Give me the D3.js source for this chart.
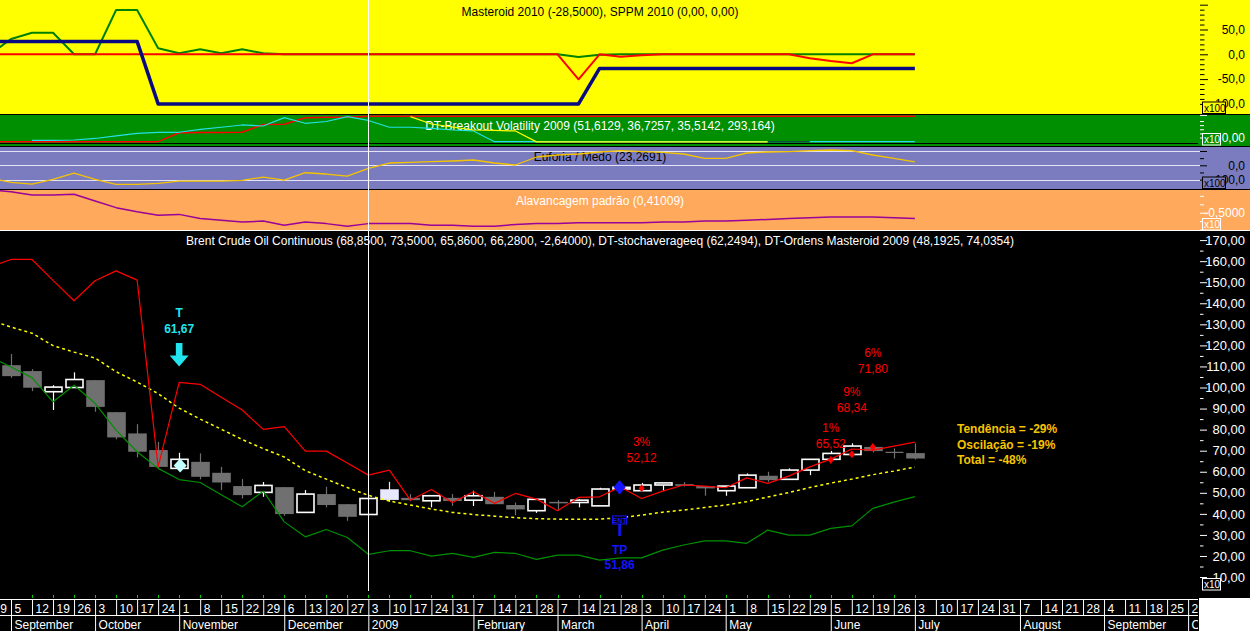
<!DOCTYPE html>
<html><head><meta charset="utf-8">
<script src="https://cdn.jsdelivr.net/npm/d3@7"></script>
<style>
html,body{margin:0;padding:0;background:#000;}
svg{display:block;font-family:"Liberation Sans",Arial,sans-serif;}
</style></head><body>
<svg id="c" width="1250" height="631"></svg>
<script>
// ---------------- DATA ----------------
const weekLabels = ["29","5","12","19","26","3","10","17","24","1","8","15","22","29","6","13","20","27","3","10","17","24","31","7","14","21","28","7","14","21","28","3","10","17","24","1","8","15","22","29","5","12","19","26","3","10","17","24","31","7","14","21","28","4","11","18","25","2"];
const monthLabels = ["September","October","November","December","2009","February","March","April","May","June","July","August","September","O"];
const monthStart  = [1,5,9,14,18,23,27,31,35,40,44,49,53,57];

// weekly candles, week index 1..44
const opens  = [110.6,107.8,98.0,100.0,103.5,88.3,78.2,70.3,61.6,64.7,59.5,53.2,50.2,52.7,40.7,49.4,44.6,39.7,47.0,47.6,46.2,47.6,46.5,48.1,44.2,41.5,45.7,45.4,43.8,51.8,51.0,53.7,54.1,53.2,51.0,52.4,58.1,56.4,60.8,65.9,68.2,71.8,69.2,68.85];
const highs  = [115.9,108.7,101.1,107.2,103.5,88.3,82.6,74.2,69.0,68.7,62.3,56.5,55.1,52.7,51.3,52.9,44.6,47.3,55.2,49.4,48.6,49.4,51.0,50.5,45.4,46.9,46.5,47.0,52.4,53.0,54.7,54.7,55.1,53.2,53.2,59.2,60.0,61.6,65.9,69.9,73.5,71.8,71.1,73.5];
const lows   = [104.6,98.3,89.3,100.0,88.5,75.4,66.8,61.6,61.6,56.4,51.3,47.3,48.1,39.1,40.7,43.1,36.7,39.7,45.7,46.0,43.1,43.8,43.7,44.6,39.4,40.5,41.5,43.1,43.8,51.0,51.0,51.0,53.0,48.6,48.6,52.4,55.2,56.4,58.4,65.9,68.2,69.2,66.3,65.86];
const closes = [105.4,99.9,100.2,103.8,90.8,76.3,69.5,62.3,65.9,57.6,54.9,48.9,53.5,39.9,49.4,44.2,38.6,47.3,51.3,46.5,48.6,46.1,48.6,44.6,42.1,46.9,45.0,46.5,51.8,52.6,53.7,54.7,53.3,52.1,53.2,58.4,56.0,60.8,65.9,68.7,72.2,69.8,69.2,66.28];

// line series, week index 0..44
const ordensUpper = [157.2,160.8,160.8,150.9,141.2,150.7,155.4,151.0,62.3,102.4,101.5,95.4,89.3,80.1,81.4,69.8,69.8,64.2,58.4,60.8,46.5,51.6,45.4,50.5,45.0,49.7,47.0,41.5,47.8,48.1,52.8,47.3,50.8,53.7,53.2,52.4,57.1,54.5,57.9,62.3,66.0,70.8,70.3,72.2,74.04];
const stochAvg    = [132.0,128.7,125.8,119.9,116.8,114.0,107.5,102.6,97.1,90.2,85.0,80.2,75.3,71.0,67.0,60.5,56.5,52.5,48.8,46.1,44.2,42.3,40.7,39.7,38.9,38.2,37.7,37.5,37.5,37.5,38.2,39.4,40.8,41.8,43.0,44.2,45.8,48.0,50.1,52.5,54.6,56.5,58.6,60.3,62.25];
const ordensLower = [114.6,109.7,104.7,93.2,101.1,92.5,79.8,69.5,61.6,56.3,54.9,49.1,43.4,50.8,36.2,29.1,32.6,28.8,20.8,22.5,22.5,19.9,21.2,19.3,21.7,21.2,18.4,20.4,20.4,18.0,19.1,19.1,22.8,25.2,27.2,27.2,26.0,32.3,29.9,29.9,33.1,34.3,42.6,45.6,48.19];

const masteroidGreen = [0,30.8,43.5,43.5,0,0,89.3,89.3,12.1,2,10,2,10,2,0,0,0,0,0,0,0,0,0,0,0,0,0,0,-5.4,-1,0,0,0,0,0,0,0,0,0,0,0,0,0,0,0];
const sppmRed        = [0,0,0,0,0,0,0,0,0,0,0,0,0,0,0,0,0,0,0,0,0,0,0,0,0,0,0,0,-50.4,0,-5,-2,0,0,0,0,0,0,0,-8,-13.5,-18,0,0,0];
const masteroidBlue  = [26,26,26,26,26,26,26,26,-100,-100,-100,-100,-100,-100,-100,-100,-100,-100,-100,-100,-100,-100,-100,-100,-100,-100,-100,-100,-100,-28.5,-28.5,-28.5,-28.5,-28.5,-28.5,-28.5,-28.5,-28.5,-28.5,-28.5,-28.5,-28.5,-28.5,-28.5,-28.5];

const breakRed    = [-10.2,-10.2,-10.2,-10.2,-10.2,-10.2,-10.2,-10.2,-10.2,11.7,12.2,12.4,12.7,31.7,32.2,48.3,49.3,49.3,51.61,51.61,51.61,51.61,51.61,51.61,51.61,51.61,51.61,51.61,51.61,51.61,51.61,51.61,51.61,51.61,51.61,51.61,51.61,51.61,51.61,51.61,51.61,51.61,51.61,51.61,51.61];
const breakCyan   = [null,null,-6.8,-6.8,-6.1,-2.4,3.7,10.2,12.7,12.7,20,24.9,30.5,28,48.3,34.6,39,50.7,41.5,24.9,24.9,22.4,18.3,15.9,-10.2,-10.2,-10.2,-10.2,-10.2,-10.2,-10.2,-10.2,-10.2,-10.2,-10.2,-10.2,-10.2,-10.2,-10.2,-10.2,-10.2,-10.2,-10.2,-10.2,-10.2];
const breakYellow = [null,null,null,null,null,null,null,null,null,null,null,null,null,null,null,null,null,null,null,null,50.7,32.9,25.6,18.3,17.1,15.9,-10.7,-10.7,-10.7,-10.7,-10.7,-10.7,-10.7,-10.7,-10.7,-10.7,-10.7,-10.7,null,null,null,null,null,null,null];
const breakDark   = [null,null,null,null,null,null,null,null,null,null,null,null,null,null,null,null,null,null,null,null,null,null,null,null,null,null,null,null,null,null,null,null,null,null,null,null,null,-10.4,-10.4,-10.4,null,null,null,null,null];

const euforia = [-89,-120,-131,-99,-54,-99,-133,-133,-127,-110,-110,-110,-106,-82,-103,-52,-61,-75,-22,16,20,25,30,37,16,2,58,72,79,93,102,96,91,79,49,49,86,93,96,102,107,103,72,49,23.27];
const alavanc = [-0.23,-0.25,-0.29,-0.29,-0.28,-0.36,-0.44,-0.49,-0.53,-0.52,-0.57,-0.59,-0.61,-0.60,-0.65,-0.61,-0.63,-0.66,-0.63,-0.63,-0.63,-0.65,-0.65,-0.66,-0.66,-0.64,-0.63,-0.63,-0.62,-0.62,-0.62,-0.62,-0.61,-0.61,-0.60,-0.60,-0.59,-0.58,-0.57,-0.56,-0.55,-0.55,-0.55,-0.56,-0.57];

// trade annotations
const exitIdx    = [31, 40, 41, 42];
const exitPrice  = [52.12, 65.52, 68.34, 71.80];
const exitPct    = ["3%", "1%", "9%", "6%"];
const exitLevel  = [74.2, 80.7, 97.8, 116.3];   // price level where label sits
const shortIdx = 9,  shortPrice = 61.67, shortMark = 63.0, shortTip = 110;
const entryIdx = 30, entryMark = 52.6, entryPrice = 51.86, entryFlag = 39;
const cursorIdx = 18;
const highlightIdx = 19;

const mainTicks = d3.range(10, 171, 10);
const mainMinor = d3.range(15, 176, 10);
const p1Ticks = [100, 50, 0, -50, -100];
const p1Labels = [50, 0, -50, -100];
const p1Minor = d3.range(-90, 100, 10).filter(v => v % 50 !== 0);
const summary = ["Tendência = -29%", "Oscilação = -19%", "Total = -48%"];

const titles = [
  "Masteroid 2010 (-28,5000), SPPM 2010 (0,00, 0,00)",
  "DT-Breakout Volatility 2009 (51,6129, 36,7257, 35,5142, 293,164)",
  "Euforia / Medo (23,2691)",
  "Alavancagem padrão (0,41009)",
  "Brent Crude Oil Continuous (68,8500, 73,5000, 65,8600, 66,2800, -2,64000), DT-stochaverageeq (62,2494), DT-Ordens Masteroid 2009 (48,1925, 74,0354)"
];

// ---------------- DRAW ----------------
const W = 1250, H = 631, PR = 1198, FONT = '"Liberation Sans", Arial, sans-serif';
const loc = d3.formatLocale({decimal: ",", thousands: ".", grouping: [3], currency: ["", ""], minus: "-"});
const f1 = loc.format(".1f"), f2 = loc.format(".2f"), f4 = loc.format(".4f");
const svg = d3.select("#c");

const x = d3.scaleLinear().domain([1, 57]).range([11, 11 + 56 * 21.02]);
const y1 = d3.scaleLinear().domain([-100, 100]).range([103.9, 4.7]);
const y2 = d3.scaleLinear().domain([-11, 57]).range([142.0, 114.1]);
const y3 = d3.scaleLinear().domain([-100, 100]).range([179.6, 151.0]);
const y4 = d3.scaleLinear().domain([-0.7, -0.2]).range([229.5, 187.5]);
const ym = d3.scaleLinear().domain([0, 170]).range([598.1, 240.1]);

const panels = [
  {y0: 0,   y1: 114, bg: "#ffff00", title: titles[0], tc: "#000", ty: 16},
  {y0: 114, y1: 146, bg: "#008f00", title: titles[1], tc: "#fff", ty: 130},
  {y0: 146, y1: 189, bg: "#7b7bbf", title: titles[2], tc: "#000", ty: 161},
  {y0: 189, y1: 230, bg: "#ffa95c", title: titles[3], tc: "#fff", ty: 205},
  {y0: 230, y1: 598, bg: "#000000", title: titles[4], tc: "#fff", ty: 245}
];
const defs = svg.append("defs");
panels.forEach((p, i) => {
  svg.append("rect").attr("x", 0).attr("y", p.y0).attr("width", W).attr("height", p.y1 - p.y0).attr("fill", p.bg);
  defs.append("clipPath").attr("id", "cp" + i).append("rect")
    .attr("x", 0).attr("y", p.y0).attr("width", PR).attr("height", p.y1 - p.y0);
});
// bottom axis backgrounds
svg.append("rect").attr("x", 0).attr("y", 598).attr("width", PR + 1).attr("height", 33).attr("fill", "#000");
svg.append("rect").attr("x", PR + 1).attr("y", 598).attr("width", W - PR - 1).attr("height", 33).attr("fill", "#fff");
defs.append("clipPath").attr("id", "cpx").append("rect").attr("x", 0).attr("y", 590).attr("width", PR).attr("height", 41);

// lavender grid lines
svg.append("g").selectAll("line").data([100, 0, -100]).join("line")
  .attr("x1", 0).attr("x2", 1200).attr("y1", d => Math.round(y3(d)) + 0.5).attr("y2", d => Math.round(y3(d)) + 0.5)
  .attr("stroke", "#e4e4f6").attr("stroke-width", 1);

// titles
panels.forEach(p => {
  svg.append("text").attr("x", 600).attr("y", p.ty).attr("text-anchor", "middle")
    .attr("fill", p.tc).style("font-size", "12px").style("font-family", FONT).text(p.title);
});

const line = (scale) => d3.line().defined(d => d != null).x((d, i) => x(i)).y(d => scale(d));
function drawLine(g, data, scale, color, w, dash) {
  g.append("path").datum(data).attr("d", line(scale)).attr("fill", "none")
    .attr("stroke", color).attr("stroke-width", w).attr("stroke-dasharray", dash || null)
    .attr("stroke-linejoin", "round");
}

// panel 1
const g1 = svg.append("g").attr("clip-path", "url(#cp0)");
drawLine(g1, masteroidGreen, y1, "#008000", 2);
drawLine(g1, sppmRed, y1, "#ff0000", 2);
drawLine(g1, masteroidBlue, y1, "#0a0a80", 3.5);
// panel 2
const g2 = svg.append("g").attr("clip-path", "url(#cp1)");
g2.append("line").attr("x1", 0).attr("x2", PR).attr("y1", 143.5).attr("y2", 143.5).attr("stroke", "#000");
drawLine(g2, breakRed, y2, "#ff0000", 1.5);
drawLine(g2, breakCyan, y2, "#22e0e6", 1.2);
drawLine(g2, breakYellow, y2, "#ffff00", 1.2);
drawLine(g2, breakDark, y2, "#002000", 1.2);
// panel 3
const g3 = svg.append("g").attr("clip-path", "url(#cp2)");
drawLine(g3, euforia, y3, "#f5c400", 1.3);
// panel 4
const g4 = svg.append("g").attr("clip-path", "url(#cp3)");
drawLine(g4, alavanc, y4, "#9a009a", 1.5);

// panel borders
svg.append("g").selectAll("line").data([114.5, 146.5, 189.5]).join("line")
  .attr("x1", 0).attr("x2", W).attr("y1", d => d).attr("y2", d => d).attr("stroke", "#000");
svg.append("line").attr("x1", 0).attr("x2", W).attr("y1", 230.5).attr("y2", 230.5).attr("stroke", "#fff");

// main panel
const gm = svg.append("g").attr("clip-path", "url(#cp4)");
const candles = opens.map((o, i) => ({i: i + 1, o, h: highs[i], l: lows[i], c: closes[i]}));
const bw = 17;
const cg = gm.append("g");
candles.forEach(d => {
  const up = d.c > d.o;
  const hl = d.i === highlightIdx;
  const col = up ? (hl ? "#e8e8ff" : "#ffffff") : "#707070";
  const cx = Math.round(x(d.i)) + 0.5;
  const top = ym(Math.max(d.o, d.c)), bot = ym(Math.min(d.o, d.c));
  cg.append("line").attr("x1", cx).attr("x2", cx).attr("y1", ym(d.h)).attr("y2", ym(d.l))
    .attr("stroke", col).attr("stroke-width", 1.2);
  if (d.o === d.c) {
    cg.append("line").attr("x1", cx - 9).attr("x2", cx + 9).attr("y1", top).attr("y2", top).attr("stroke", col).attr("stroke-width", 1.2);
  } else if (up) {
    cg.append("rect").attr("x", cx - bw / 2).attr("y", top).attr("width", bw).attr("height", Math.max(1, bot - top))
      .attr("fill", hl ? col : "#000").attr("stroke", col).attr("stroke-width", 1.6);
  } else {
    cg.append("rect").attr("x", cx - bw / 2 - 0.8).attr("y", top).attr("width", bw + 1.6).attr("height", Math.max(1.5, bot - top))
      .attr("fill", col);
  }
});
drawLine(gm, stochAvg, ym, "#ffff00", 1.5, "3,3");
drawLine(gm, ordensLower, ym, "#009000", 1.2);
drawLine(gm, ordensUpper, ym, "#ff0000", 1.2);

// green week ticks
gm.append("g").selectAll("line").data(d3.range(2, 45)).join("line")
  .attr("x1", d => Math.round(x(d)) + 0.5).attr("x2", d => Math.round(x(d)) + 0.5)
  .attr("y1", 595).attr("y2", 598).attr("stroke", "#00d000");

const diamond = (cx, cy, hw, hh) => `M${cx},${cy - hh}L${cx + hw},${cy}L${cx},${cy + hh}L${cx - hw},${cy}Z`;
// exits
exitIdx.forEach((ix, k) => {
  gm.append("path").attr("d", diamond(x(ix), ym(exitPrice[k]), 3, 4)).attr("fill", "#ff0000");
  const ly = ym(exitLevel[k]);
  gm.append("text").attr("x", x(ix)).attr("y", ly + 4).attr("text-anchor", "middle").attr("fill", "#ff0000")
    .style("font-size", "12px").style("font-family", FONT).text(exitPct[k]);
  gm.append("text").attr("x", x(ix)).attr("y", ly + 20).attr("text-anchor", "middle").attr("fill", "#ff0000")
    .style("font-size", "12px").style("font-family", FONT).text(f2(exitPrice[k]));
});
// short signal (cyan)
{
  const cx = x(shortIdx), tip = ym(shortTip);
  gm.append("path").attr("d", diamond(cx + 1, ym(shortMark), 6.5, 7)).attr("fill", "#c4ffff");
  gm.append("path").attr("fill", "#22e4ee")
    .attr("d", `M${cx - 3.3},${tip - 23.5}H${cx + 3.3}V${tip - 11}H${cx + 9.5}L${cx},${tip}L${cx - 9.5},${tip - 11}H${cx - 3.3}Z`);
  gm.append("text").attr("x", cx).attr("y", tip - 49).attr("text-anchor", "middle").attr("fill", "#22e4ee")
    .style("font-size", "12px").style("font-weight", "bold").style("font-family", FONT).text("T");
  gm.append("text").attr("x", cx).attr("y", tip - 33).attr("text-anchor", "middle").attr("fill", "#22e4ee")
    .style("font-size", "12px").style("font-weight", "bold").style("font-family", FONT).text(f2(shortPrice));
}
// entry (blue)
{
  const cx = x(entryIdx) - 1, fy = ym(entryFlag);
  gm.append("path").attr("d", diamond(cx, ym(entryMark), 6, 7.3)).attr("fill", "#1414ff");
  gm.append("rect").attr("x", cx - 7).attr("y", fy).attr("width", 14).attr("height", 8)
    .attr("fill", "#000").attr("stroke", "#1414ff").attr("stroke-width", 1);
  gm.append("text").attr("x", cx).attr("y", fy + 7).attr("text-anchor", "middle").attr("fill", "#1414ff")
    .style("font-size", "7px").style("font-weight", "bold").style("font-family", FONT).text("ENT");
  gm.append("rect").attr("x", cx - 1.3).attr("y", fy + 8).attr("width", 2.6).attr("height", 12).attr("fill", "#1414ff");
  gm.append("text").attr("x", cx).attr("y", fy + 38).attr("text-anchor", "middle").attr("fill", "#1414ff")
    .style("font-size", "12px").style("font-weight", "bold").style("font-family", FONT).text("TP");
  gm.append("text").attr("x", cx).attr("y", fy + 53).attr("text-anchor", "middle").attr("fill", "#1414ff")
    .style("font-size", "12px").style("font-weight", "bold").style("font-family", FONT).text(f2(entryPrice));
}
// summary text
summary.forEach((s, k) => {
  gm.append("text").attr("x", 957).attr("y", 433 + k * 15.5).attr("fill", "#f5c400")
    .style("font-size", "12px").style("font-weight", "bold").style("font-family", FONT).text(s);
});

// ---------- right axes ----------
function rAxis(scale, major, labels, minor, fmt, color, majLen, minLen) {
  const g = svg.append("g").attr("transform", "translate(1200,0)");
  if (minor.length) {
    const gn = g.append("g").call(d3.axisRight(scale).tickValues(minor).tickSize(minLen).tickFormat(""));
    gn.select(".domain").remove();
    gn.selectAll("line").attr("stroke", color);
  }
  const gj = g.append("g").call(d3.axisRight(scale).tickValues(major).tickSize(majLen)
    .tickFormat(d => labels.includes(d) ? fmt(d) : ""));
  gj.select(".domain").remove();
  gj.selectAll("line").attr("stroke", color);
  gj.selectAll("text").attr("fill", color).attr("text-anchor", "end").attr("x", 45)
    .style("font-size", "12px").style("font-family", FONT);
  return gj;
}
function scaleBox(y, w, label, color, bg) {
  svg.append("rect").attr("x", 1202.5).attr("y", y + 0.5).attr("width", w).attr("height", 11.5)
    .attr("fill", bg).attr("stroke", color).attr("stroke-width", 1);
  svg.append("text").attr("x", 1204).attr("y", y + 10).attr("fill", color)
    .style("font-size", "10px").style("font-family", FONT).text(label);
}
rAxis(y1, p1Ticks, p1Labels, p1Minor, f1, "#000", 8, 4.5);
scaleBox(101.5, 23, "x100", "#000", "#ffff00");
rAxis(y2, [0, 55], [0], [10, 20, 30, 40], f2, "#fff", 7, 4);
scaleBox(133, 18, "x10", "#fff", "#008f00");
rAxis(y3, [100, 0, -100], [0, -100], [50, -50], f1, "#000", 7, 4);
scaleBox(176.5, 23, "x100", "#000", "#7b7bbf");
rAxis(y4, [-0.5], [-0.5], [-0.3, -0.4, -0.6], f4, "#fff", 8, 4);
scaleBox(218, 18, "x10", "#fff", "#ffa95c");
const gma = rAxis(ym, mainTicks, mainTicks, mainMinor, f2, "#fff", 7, 3.5);
gma.selectAll("text").style("font-size", "13px");
scaleBox(578, 18, "x10", "#fff", "#000");

// ---------- bottom axes ----------
const gxa = svg.append("g").attr("clip-path", "url(#cpx)");
gxa.append("line").attr("x1", 0).attr("x2", PR).attr("y1", 599.5).attr("y2", 599.5).attr("stroke", "#fff");
gxa.append("line").attr("x1", 0).attr("x2", PR).attr("y1", 615.5).attr("y2", 615.5).attr("stroke", "#fff");
const gw = gxa.append("g").attr("transform", "translate(0,599.5)")
  .call(d3.axisBottom(x).tickValues(d3.range(weekLabels.length)).tickFormat((d, i) => weekLabels[i]).tickSize(16).tickSizeOuter(0));
gw.select(".domain").remove();
gw.selectAll("line").attr("stroke", "#fff");
gw.selectAll("text").attr("fill", "#fff").attr("text-anchor", "start").attr("x", 3).attr("y", 13.3).attr("dy", null)
  .style("font-size", "12px").style("font-family", FONT);
const gmo = gxa.append("g").attr("transform", "translate(0,615.5)")
  .call(d3.axisBottom(x).tickValues(monthStart).tickFormat((d, i) => monthLabels[i]).tickSize(16).tickSizeOuter(0));
gmo.select(".domain").remove();
gmo.selectAll("line").attr("stroke", "#fff");
gmo.selectAll("text").attr("fill", "#fff").attr("text-anchor", "start").attr("x", 3).attr("y", 13).attr("dy", null)
  .style("font-size", "12px").style("font-family", FONT);

// cursor
const cxr = Math.round(x(cursorIdx)) + 0.5;
svg.append("line").attr("x1", cxr).attr("x2", cxr).attr("y1", 0).attr("y2", 591).attr("stroke", "#fff").attr("stroke-width", 1);
</script>
</body></html>
